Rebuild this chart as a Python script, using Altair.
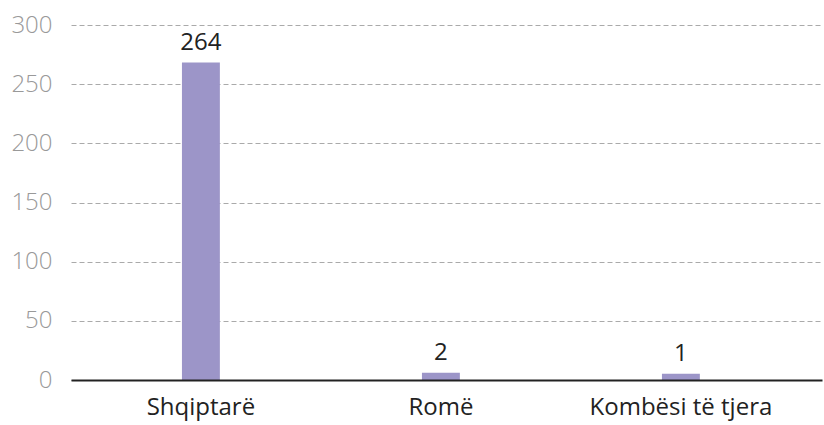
import altair as alt
import pandas as pd

categories = ["Shqiptarë", "Romë", "Kombësi të tjera"]
values = [264, 2, 1]

df = pd.DataFrame({"cat": categories, "val": values})

FONT = "Open Sans"

base = alt.Chart(df).encode(
    x=alt.X("cat:N", sort=categories, title=None,
            scale=alt.Scale(paddingInner=0.842, paddingOuter=0.4856, align=0.476),
            axis=alt.Axis(labelAngle=0, labelFontSize=24, labelColor="#222222",
                          labelFont=FONT, labelPadding=15, ticks=False, labelLimit=400,
                          domainColor="#222222", domainWidth=2, zindex=1)),
    y=alt.Y("val:Q", title=None,
            scale=alt.Scale(domain=[0, 300]),
            axis=alt.Axis(values=[0, 50, 100, 150, 200, 250, 300], labelFontSize=24,
                          labelColor="#999999", labelFont=FONT, labelFontWeight=300,
                          labelPadding=19, ticks=False, domain=False, gridDash=[5, 3],
                          gridColor="#aaaaaa", gridWidth=1)),
)

bars = base.mark_bar(color="#9c95c8", yOffset=-5, y2Offset=1).encode(y2=alt.datum(0))
labels = base.mark_text(dy=-18, baseline="alphabetic", fontSize=24,
                        color="#222222", font=FONT).encode(text="val:Q")

chart = (bars + labels).properties(
    width=751, height=355,
    autosize=alt.AutoSizeParams(type="none"),
    padding={"left": 71, "top": 25, "right": 2, "bottom": 45},
).configure_view(stroke=None)

chart.save("out.html", embed_options={"renderer": "svg", "actions": False})
